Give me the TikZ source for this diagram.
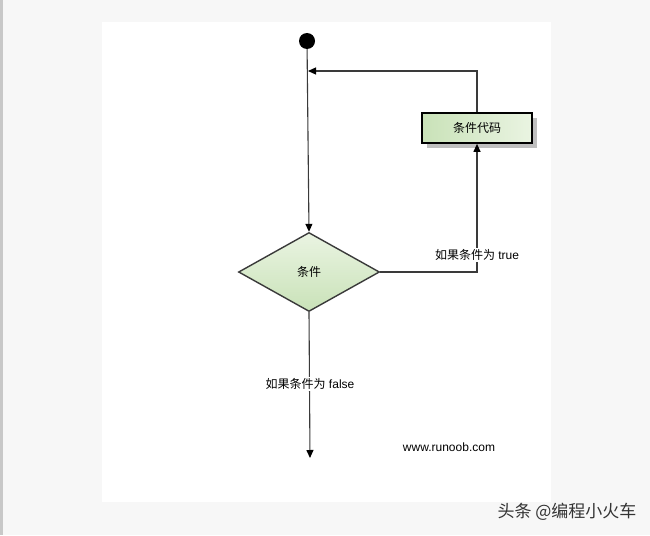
\documentclass[tikz,border=0pt]{standalone}
\usepackage{fontspec}
\setmainfont{Liberation Sans}
\newfontfamily\cjk{Noto Sans CJK SC}
\usetikzlibrary{shapes.geometric,arrows.meta,shadows}

\definecolor{pagegray}{HTML}{F7F7F7}
\definecolor{stripegray}{HTML}{C8C8C8}
\definecolor{linegray}{HTML}{3A3A3A}
\definecolor{lightgreen}{HTML}{EAF4E2}
\definecolor{midgreen}{HTML}{C9E2B8}

\tikzset{
    flow/.style={draw=linegray, line width=1.1pt,
        -{Triangle[length=8pt,width=7pt,color=black]}},
    cond/.style={diamond, aspect=1.78, draw=linegray, line width=1.4pt,
        minimum width=141pt, minimum height=79pt, inner sep=0pt,
        top color=lightgreen, bottom color=midgreen, font=\cjk\fontsize{12}{14}\selectfont},
    codebox/.style={rectangle, draw=black, line width=1.7pt,
        minimum width=110pt, minimum height=30pt, inner sep=0pt,
        left color=midgreen, right color=lightgreen,
        drop shadow={shadow xshift=5pt, shadow yshift=-5pt, fill=gray!50, opacity=1},
        font=\cjk\fontsize{12}{14}\selectfont},
    lbl/.style={fill=white, inner sep=1.5pt, font=\fontsize{12}{14}\selectfont}
}

\begin{document}
\begin{tikzpicture}[x=1pt, y=-1pt]
    \useasboundingbox (0,0) rectangle (650,535);
    \fill[pagegray] (0,0) rectangle (650,535);
    \fill[stripegray] (0,0) rectangle (3,535);
    \fill[white] (102,22) rectangle (551,502);

    \node[circle, fill=black, minimum size=16pt, inner sep=0pt] (start) at (307,41) {};
    \node[cond] (cond) at (309,272) {条件};
    \node[codebox] (code) at (477,128) {条件代码};
    \coordinate (back) at (308,71);
    \coordinate (exit) at (310,458);

    \draw[flow] (start) -- (cond.north);
    \draw[flow] (cond.east) -| (code.south);
    \draw[flow] (code.north) |- (back);
    \draw[flow] (cond.south) -- (exit);

    \node[lbl] (ltrue) at (477,255) {{\cjk 如果条件为} true};
    \node[lbl] (lfalse) at (310,384) {{\cjk 如果条件为} false};

    \node[font=\fontsize{12}{14}\selectfont] (site) at (449,447) {www.runoob.com};
    \node[text=black!80, font=\cjk\fontsize{17}{20}\selectfont] (mark) at (567,512) {头条 @编程小火车};
\end{tikzpicture}
\end{document}
